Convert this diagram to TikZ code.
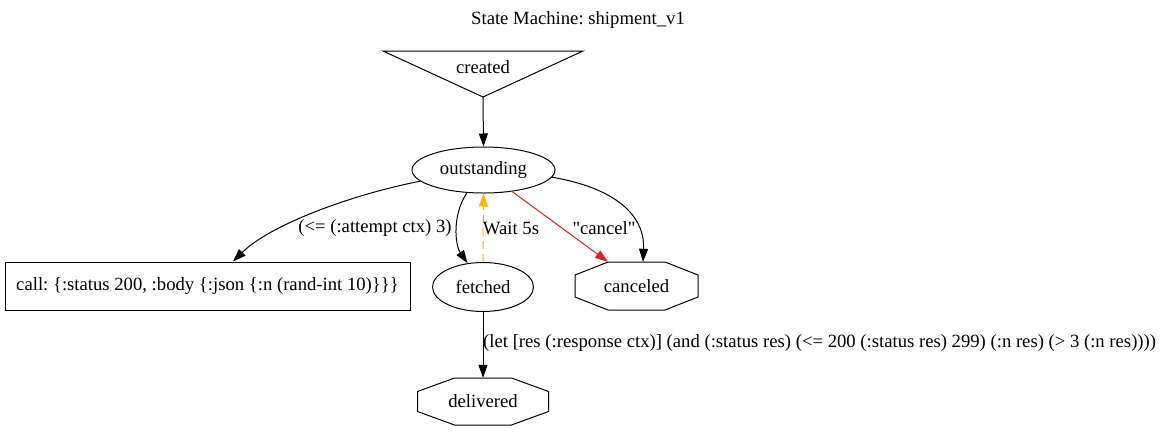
\documentclass[tikz,border=0pt]{standalone}
\usepackage{fontspec}
\setmainfont{Liberation Serif}[Ligatures=TeXOff]
\usetikzlibrary{arrows.meta,shapes.geometric,calc}
\definecolor{edgeorange}{RGB}{255,181,0}
\definecolor{edgered}{RGB}{204,40,40}
\frenchspacing
\begin{document}
\begin{tikzpicture}[x=1pt,y=-1pt,
  every node/.style={font=\fontsize{18.67}{22}\selectfont, inner sep=0pt},
  lw/.style={line width=1pt},
  conn/.style={lw, -{Triangle[length=13pt,width=9pt]}},
  ell/.style={ellipse, draw, lw},
  octbox/.style={rectangle, draw=none}
]
\useasboundingbox[fill=white] (0,0) rectangle (1162,432);

% title
\node (title) at (578,20) {State Machine: shipment\_v1};

% created (inverted triangle)
\coordinate (ctl) at (383,51);
\coordinate (ctr) at (583,51);
\coordinate (cap) at (483,97);
\draw[lw] (ctl) -- (ctr) -- (cap) -- cycle;
\node (cr) at (483,67) {created};

% outstanding
\node[ell, minimum width=143pt, minimum height=46pt] (os) at (483.5,170) {outstanding};

% call box
\node[draw, lw, minimum width=405pt, minimum height=48pt] (call) at (207.5,286) {call: \{:status 200, :body \{:json \{:n (rand-int 10)\}\}\}};

% fetched
\node[ell, minimum width=101pt, minimum height=49pt] (fe) at (483,287) {fetched};

% canceled octagon
\node[octbox, minimum width=123pt, minimum height=48pt] (cn) at (636.5,286) {canceled};
\draw[lw, shift={(cn.center)}] (-28.5,-24) -- (28.5,-24) -- (61.5,-11) -- (61.5,11) -- (28.5,24) -- (-28.5,24) -- (-61.5,11) -- (-61.5,-11) -- cycle;

% delivered octagon
\node[octbox, minimum width=131pt, minimum height=47pt] (dl) at (483,401.5) {delivered};
\draw[lw, shift={(dl.center)}] (-28.5,-23.5) -- (28.5,-23.5) -- (65.5,-10) -- (65.5,10) -- (28.5,23.5) -- (-28.5,23.5) -- (-65.5,10) -- (-65.5,-10) -- cycle;

% edges
\draw[conn] (cap) -- (os.north);

\draw[conn] (os.190) .. controls (350,195) and (270,225) .. ([xshift=25.5pt]call.north);
\node (l1) at (375,228) {(<= (:attempt ctx) 3)};

\draw[conn] (os.234) .. controls (452,215) and (455,245) .. (fe.123);

\draw[conn, edgeorange, dash pattern=on 8pt off 5pt] (fe.north) -- (os.south);
\node (l2) at (511,228) {Wait 5s};

\draw[conn, edgered] (os.323.5) -- ([xshift=-28.5pt]cn.north);
\node (l3) at (604,228) {"cancel"};

\draw[conn] (os.-6) .. controls (615,188) and (645,215) .. ([xshift=6.5pt]cn.north);

\draw[conn] (fe.south) -- (dl.north);
\node[anchor=west] (l4) at (483,343) {(let [res (:response ctx)] (and (:status res) (<= 200 (:status res) 299) (:n res) (> 3 (:n res))))};
\end{tikzpicture}
\end{document}
